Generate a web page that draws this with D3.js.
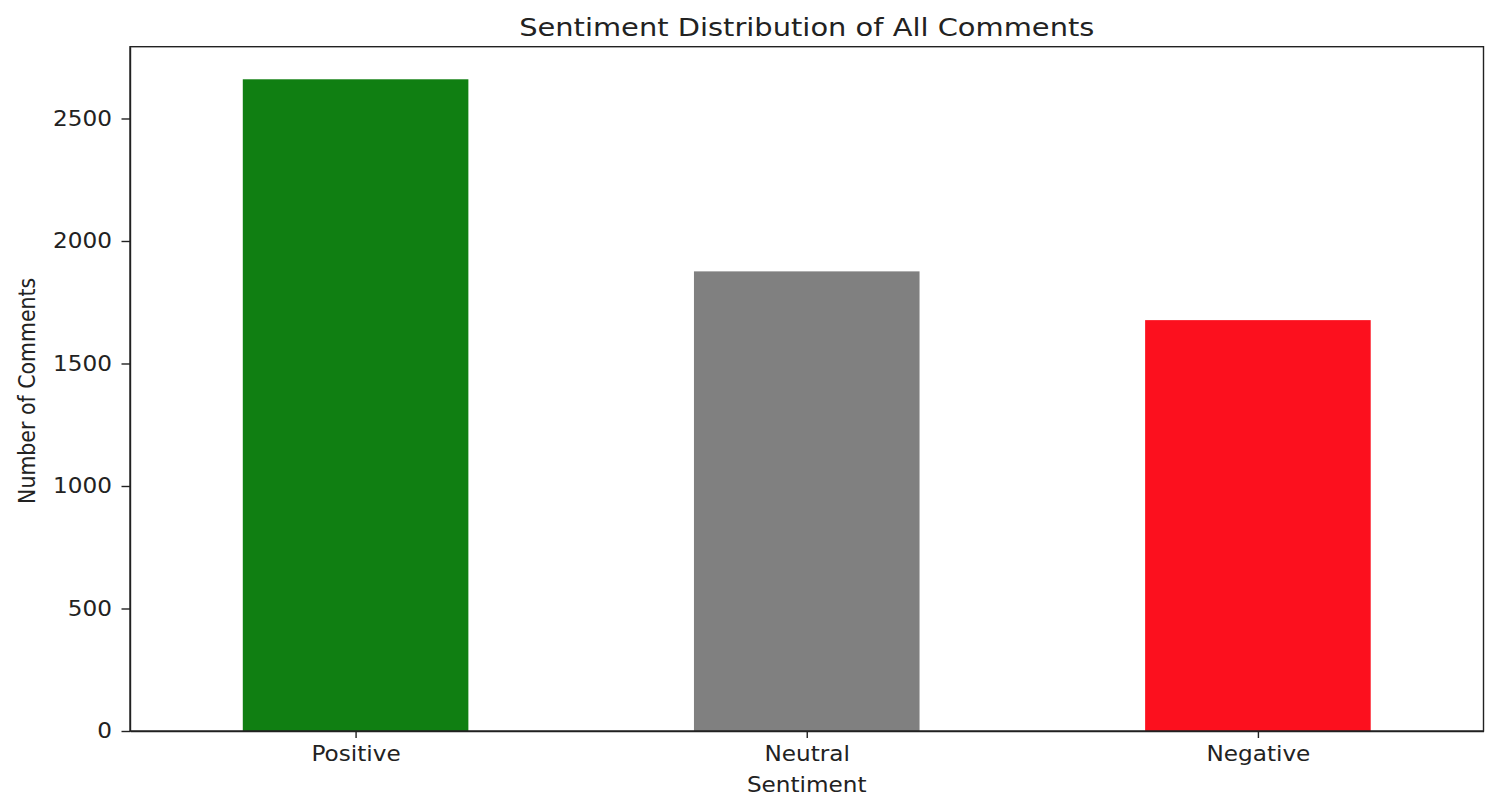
<!DOCTYPE html>
<html lang="en">
<head>
  <meta charset="UTF-8" />
  <title>Sentiment Distribution of All Comments</title>
  <script src="https://d3js.org/d3.v7.min.js"></script>
  <style>
    body {
      margin: 0;
      background: #fff;
      font-family: 'DejaVu Sans', sans-serif;
    }
    svg {
      display: block;
    }
    .axis path, .axis line {
      stroke: #222;
      stroke-width: 1.4px;
    }
    .axis text {
      font-family: 'DejaVu Sans', sans-serif;
      font-size: 20.5px;
      fill: #222;
    }
  </style>
</head>
<body>

<svg id="chart" width="1498" height="810"></svg>

<script>
  // chart data
  const categories = ["Positive", "Neutral", "Negative"];
  const counts = [2660, 1876, 1677];
  const barColors = ["#107f12", "#808080", "#fc101e"];
  const yTicks = [0, 500, 1000, 1500, 2000, 2500];

  const width = 1498, height = 810;
  const margin = { top: 46.7, right: 14.5, bottom: 79, left: 130 };
  const sx = 1.13;  // the picture is stretched a bit sideways

  const svg = d3.select("#chart");

  const x = d3.scaleLinear()
    .domain([-0.5, categories.length - 0.5])
    .range([margin.left, width - margin.right]);

  const y = d3.scaleLinear()
    .domain([0, d3.max(counts) * 1.05])
    .range([height - margin.bottom, margin.top]);

  const barWidth = 0.5;

  // bars
  svg.append("g")
    .selectAll("rect")
    .data(categories)
    .enter().append("rect")
    .attr("x", (d, i) => x(i - barWidth / 2))
    .attr("width", (d, i) => x(i + barWidth / 2) - x(i - barWidth / 2))
    .attr("y", (d, i) => y(counts[i]))
    .attr("height", (d, i) => y(0) - y(counts[i]))
    .attr("fill", (d, i) => barColors[i]);

  // y axis
  const yAxis = svg.append("g")
    .attr("class", "axis")
    .attr("transform", `translate(${margin.left},0)`)
    .call(d3.axisLeft(y)
      .tickValues(yTicks)
      .tickFormat(d3.format("d"))
      .tickSize(8.5)
      .tickPadding(9)
      .tickSizeOuter(0));

  yAxis.selectAll("text")
    .attr("x", 0)
    .attr("transform", `translate(-18,0) scale(${sx},1)`);

  // x axis
  const xAxis = svg.append("g")
    .attr("class", "axis")
    .attr("transform", `translate(0,${y(0)})`)
    .call(d3.axisBottom(x)
      .tickValues(d3.range(categories.length))
      .tickFormat(i => categories[i])
      .tickSize(7)
      .tickPadding(8)
      .tickSizeOuter(0));

  xAxis.selectAll("text")
    .attr("transform", `scale(${sx},1)`);

  // frame
  svg.append("rect")
    .attr("x", margin.left)
    .attr("y", margin.top)
    .attr("width", width - margin.right - margin.left)
    .attr("height", y(0) - margin.top)
    .attr("fill", "none")
    .attr("stroke", "#222")
    .attr("stroke-width", 1.4);

  // title
  svg.append("text")
    .attr("transform", `translate(${(margin.left + width - margin.right) / 2},36) scale(${sx},1)`)
    .attr("text-anchor", "middle")
    .attr("font-size", 25.6)
    .attr("fill", "#222")
    .text("Sentiment Distribution of All Comments");

  // axis labels
  svg.append("text")
    .attr("transform", `translate(${(margin.left + width - margin.right) / 2},792) scale(${sx},1)`)
    .attr("text-anchor", "middle")
    .attr("font-size", 20.5)
    .attr("fill", "#222")
    .text("Sentiment");

  svg.append("text")
    .attr("transform", `translate(35,${y(0) - (y(0) - margin.top) / 2 + 2}) scale(${sx},1) rotate(-90)`)
    .attr("text-anchor", "middle")
    .attr("font-size", 20.5)
    .attr("fill", "#222")
    .text("Number of Comments");
</script>

</body>
</html>
